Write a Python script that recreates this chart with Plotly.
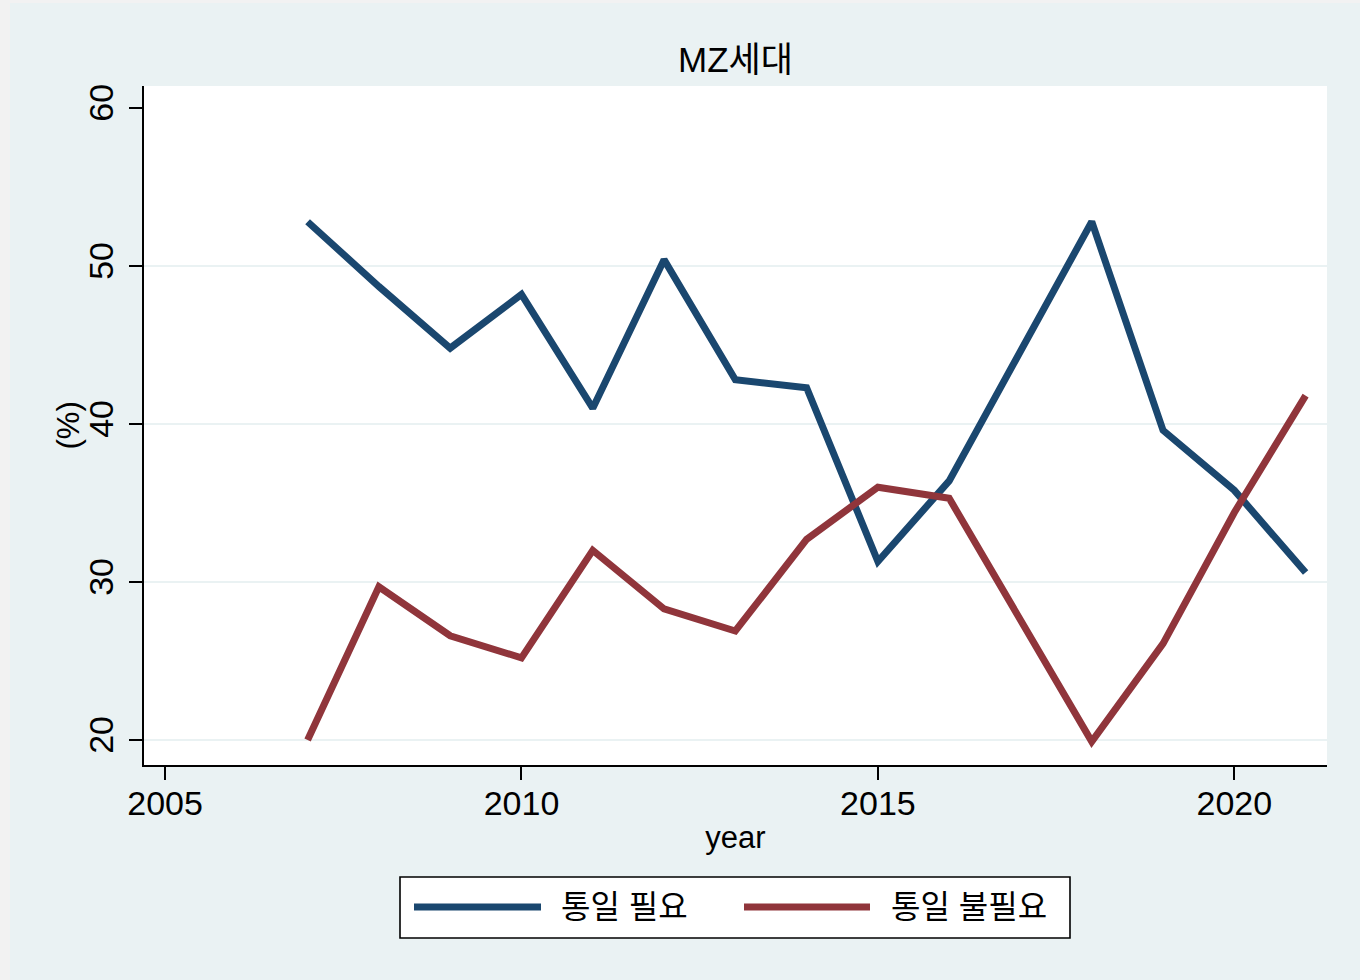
import plotly.graph_objects as go

years = list(range(2007, 2022))
need = [52.8, 48.7, 44.8, 48.2, 41.0, 50.4, 42.8, 42.3, 31.3, 36.4, 44.6, 52.8, 39.6, 35.8, 30.6]
no_need = [20.0, 29.7, 26.6, 25.2, 32.0, 28.3, 26.9, 32.7, 36.0, 35.3, 27.6, 19.9, 26.1, 34.4, 41.8]
series_names = ["통일 필요", "통일 불필요"]
colors = ["#1A476F", "#90353B"]
x_ticks = [2005, 2010, 2015, 2020]
y_ticks = [20, 30, 40, 50, 60]
grid_ticks = [20, 30, 40, 50]

W, H = 1360, 980
L, R, T, B = 144, 1327, 86, 765
FONT = "Liberation Sans, Noto Sans CJK KR, sans-serif"
BG = "#EAF2F3"


def px(x):
    return (x - L) / (R - L)


def py(y):
    return (B - y) / (B - T)


fig = go.Figure()
for name, vals, col in zip(series_names, [need, no_need], colors):
    fig.add_trace(go.Scatter(x=years, y=vals, mode="lines", name=name,
                             line=dict(color=col, width=7), showlegend=False))

# invisible trace for the grid-only axis
fig.add_trace(go.Scatter(x=[2010], y=[40], yaxis="y2", mode="markers",
                         marker=dict(opacity=0), showlegend=False, hoverinfo="skip"))

shapes = [
    dict(type="rect", xref="paper", yref="paper", x0=px(0), x1=px(10), y0=py(0), y1=py(H),
         fillcolor="#F2F2F2", line=dict(width=0), layer="below"),
    dict(type="rect", xref="paper", yref="paper", x0=px(0), x1=px(W), y0=py(0), y1=py(3),
         fillcolor="#F2F2F2", line=dict(width=0), layer="below"),
    # legend box
    dict(type="rect", xref="paper", yref="paper", x0=px(400), x1=px(1070), y0=py(877), y1=py(938),
         fillcolor="white", line=dict(color="black", width=1.6)),
    dict(type="line", xref="paper", yref="paper", x0=px(414), x1=px(541), y0=py(907), y1=py(907),
         line=dict(color=colors[0], width=7)),
    dict(type="line", xref="paper", yref="paper", x0=px(744), x1=px(870), y0=py(907), y1=py(907),
         line=dict(color=colors[1], width=7)),
]
annotations = [
    dict(text=series_names[0], xref="paper", yref="paper", x=px(559), y=py(907),
         xanchor="left", yanchor="middle", showarrow=False, font=dict(size=32, color="black", family=FONT)),
    dict(text=series_names[1], xref="paper", yref="paper", x=px(889), y=py(907),
         xanchor="left", yanchor="middle", showarrow=False, font=dict(size=32, color="black", family=FONT)),
    dict(text="(%)", xref="paper", yref="paper", x=px(68), y=0.5, textangle=-90,
         xanchor="center", yanchor="middle", showarrow=False, font=dict(size=31, color="black", family=FONT)),
]

fig.update_layout(
    width=W, height=H,
    margin=dict(l=L, r=W - R, t=T, b=H - B),
    paper_bgcolor=BG, plot_bgcolor="white",
    font=dict(family=FONT, size=32, color="black"),
    title=dict(text="MZ세대", xref="paper", x=0.5, xanchor="center", y=1 - 60 / H, yanchor="middle",
               font=dict(size=35, color="black")),
    xaxis=dict(range=[2004.705, 2021.30], tickvals=x_ticks, ticks="outside", ticklen=13,
               tickwidth=1.5, tickcolor="black", showline=True, linecolor="black", linewidth=1.8,
               showgrid=False, zeroline=False, ticklabelstandoff=-6,
               title=dict(text="year", standoff=6, font=dict(size=31)),
               tickfont=dict(size=34)),
    yaxis=dict(range=[18.42, 61.39], tickvals=y_ticks, ticks="outside", ticklen=13,
               tickwidth=1.5, tickcolor="black", showline=True, linecolor="black", linewidth=1.8,
               showgrid=False, zeroline=False, tickangle=-90, ticklabelstandoff=3,
               tickfont=dict(size=34)),
    yaxis2=dict(overlaying="y", matches="y", tickvals=grid_ticks, showgrid=True, gridcolor=BG,
                gridwidth=2, showticklabels=False, ticks="", showline=False, zeroline=False),
    shapes=shapes, annotations=annotations,
)

fig.write_html("out.html", config={"displayModeBar": False},
               post_script="document.body.style.margin='0';")
